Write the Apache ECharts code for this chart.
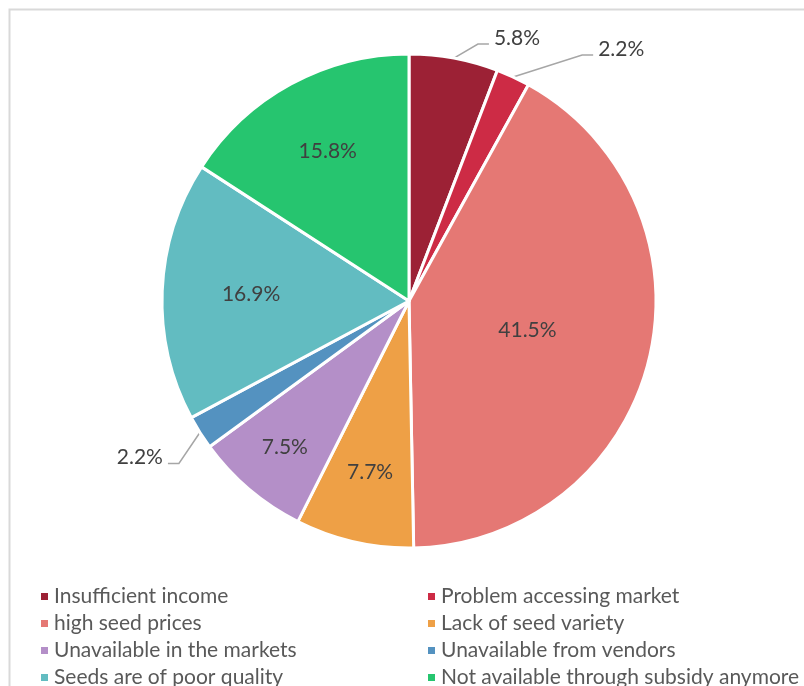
<!DOCTYPE html>
<html>
<head>
<meta charset="utf-8">
<script src="https://cdn.jsdelivr.net/npm/echarts@6/dist/echarts.min.js"></script>
<style>
  html, body { margin: 0; padding: 0; background: #ffffff; }
  #chart { width: 804px; height: 686px; }
</style>
</head>
<body>
<div id="chart"></div>
<script>
// Reasons given for not buying seeds (share of respondents, %)
const categories = [
  'Insufficient income',
  'Problem accessing market',
  'high seed prices',
  'Lack of seed variety',
  'Unavailable in the markets',
  'Unavailable from vendors',
  'Seeds are of poor quality',
  'Not available through subsidy anymore'
];
const shares = [5.8, 2.2, 41.5, 7.7, 7.5, 2.2, 16.9, 15.8];

const sliceColors = [
  '#9c2135', '#cd2b45', '#e57874', '#eea046',
  '#b48fc8', '#5492c0', '#62bcc1', '#26c56f'
];

// Label placement per slice: inside at a fraction of the radius,
// or outside with a leader line bent by an offset from the rim.
const labelPlacement = [
  { side: 'out', bend: [24, -14] },
  { side: 'out', bend: [69, -22] },
  { side: 'in', frac: 0.494 },
  { side: 'in', frac: 0.709 },
  { side: 'in', frac: 0.777 },
  { side: 'out', bend: [-21, 31] },
  { side: 'in', frac: 0.64 },
  { side: 'in', frac: 0.688 }
];

const CX = 409, CY = 301, R = 247;
const HOOK = 11, GAP = 5, LIFT = 6;
const FONT = 'Lato, "Liberation Sans", sans-serif';

const chart = echarts.init(document.getElementById('chart'), null, { renderer: 'canvas' });

const pieData = categories.map((name, i) => ({
  name: name,
  value: shares[i],
  itemStyle: { color: sliceColors[i] },
  label: { position: labelPlacement[i].side === 'in' ? 'inside' : 'outside' },
  labelLine: { show: labelPlacement[i].side !== 'in' }
}));

const legendText = { fontFamily: FONT, fontSize: 21, color: '#595959', lineHeight: 20 };

const legendBase = {
  orient: 'vertical', top: 586, padding: 0, height: 160,
  icon: 'rect', itemWidth: 9, itemHeight: 9, itemGap: 6,
  selectedMode: false,
  textStyle: legendText
};

chart.setOption({
  animation: false,
  backgroundColor: '#ffffff',
  graphic: [{
    type: 'rect',
    silent: true,
    z: -1,
    shape: { x: 9.5, y: 9.5, width: 900, height: 900 },
    style: { fill: 'none', stroke: '#d9d9d9', lineWidth: 2 }
  }],
  legend: [
    Object.assign({}, legendBase, {
      left: 39,
      data: categories.filter((_, i) => i % 2 === 0)
    }),
    Object.assign({}, legendBase, {
      left: 426,
      data: categories.filter((_, i) => i % 2 === 1)
    })
  ],
  series: [{
    type: 'pie',
    center: [CX, CY],
    radius: [0, R],
    startAngle: 90,
    clockwise: true,
    avoidLabelOverlap: false,
    itemStyle: { borderColor: '#ffffff', borderWidth: 3 },
    label: {
      show: true,
      fontFamily: FONT,
      fontSize: 21,
      color: '#404040',
      formatter: (p) => p.value.toFixed(1) + '%'
    },
    labelLine: {
      length: 15, length2: 10,
      lineStyle: { color: '#a6a6a6', width: 1.5 }
    },
    emphasis: { disabled: true },
    labelLayout: function (p) {
      const cfg = labelPlacement[p.dataIndex];
      const lr = p.labelRect;
      if (cfg.side === 'in') {
        const mx = lr.x + lr.width / 2;
        const my = lr.y + lr.height / 2;
        const d = Math.hypot(mx - CX, my - CY);
        const s = (cfg.frac * R) / d - 1;
        return { dx: (mx - CX) * s, dy: (my - CY) * s };
      }
      const p0 = p.labelLinePoints[0];
      const p1 = [p0[0] + cfg.bend[0], p0[1] + cfg.bend[1]];
      const dir = cfg.bend[0] < 0 ? -1 : 1;
      const p2 = [p1[0] + dir * HOOK, p1[1]];
      return {
        x: p2[0] + dir * GAP,
        y: p2[1] - LIFT,
        align: dir < 0 ? 'right' : 'left',
        verticalAlign: 'middle',
        labelLinePoints: [p0, p1, p2]
      };
    },
    data: pieData
  }]
});
</script>
</body>
</html>
